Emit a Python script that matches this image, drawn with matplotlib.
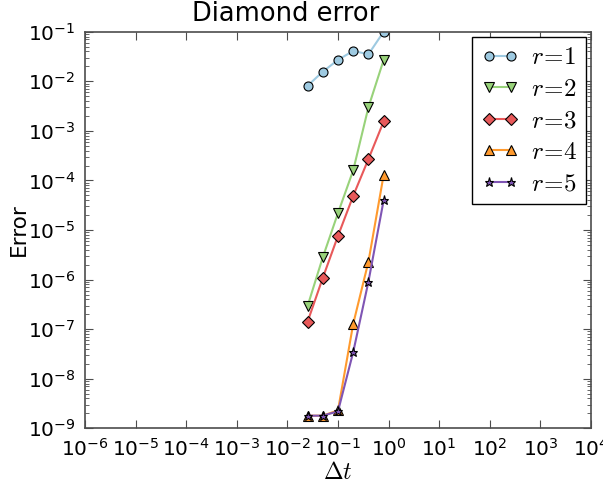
import matplotlib
matplotlib.use("Agg")
import matplotlib.pyplot as plt

dt = [0.025, 0.05, 0.1, 0.2, 0.4, 0.8]
err_r1 = [8.1e-3, 1.56e-2, 2.7e-2, 4.1e-2, 3.5e-2, 1.0e-1]
err_r2 = [2.9e-7, 2.8e-6, 2.2e-5, 1.6e-4, 3.0e-3, 2.7e-2]
err_r3 = [1.4e-7, 1.08e-6, 7.6e-6, 4.9e-5, 2.7e-4, 1.55e-3]
err_r4 = [1.8e-9, 1.8e-9, 2.3e-9, 1.28e-7, 2.3e-6, 1.3e-4]
err_r5 = [1.8e-9, 1.8e-9, 2.2e-9, 3.45e-8, 9.1e-7, 4.0e-5]
labels = [r"$r\!=\!1$", r"$r\!=\!2$", r"$r\!=\!3$", r"$r\!=\!4$", r"$r\!=\!5$"]

colors = ["#9ecae1", "#98d27a", "#e8595a", "#ff9a2e", "#7f55b4"]
markers = ["o", "v", "D", "^", "*"]

plt.rcParams["mathtext.fontset"] = "cm"
plt.rcParams["axes.unicode_minus"] = False

fig = plt.figure(figsize=(6.03, 4.84), dpi=100)
ax = fig.add_axes([0.141, 0.115, 0.839, 0.8195])

series = [err_r1, err_r2, err_r3, err_r4, err_r5]
for vals, c, m, lab in zip(series, colors, markers, labels):
    ax.plot(dt, vals, color=c, marker=m, markersize=6.5, markerfacecolor=c,
            markeredgecolor="black", markeredgewidth=0.8, linewidth=1.5,
            label=lab)

ax.set_xscale("log")
ax.set_yscale("log")
ax.set_xlim(1e-6, 1e4)
ax.set_ylim(1e-9, 1e-1)
ax.set_xticks([10.0 ** k for k in range(-6, 5)])
ax.set_yticks([10.0 ** k for k in range(-9, 0)])

for s in ax.spines.values():
    s.set_color("0.3")
    s.set_linewidth(1.2)
ax.tick_params(which="both", direction="in", top=True, right=True,
               color="0.3", labelsize=14.5)
ax.tick_params(which="major", length=6, pad=7)
ax.tick_params(which="minor", length=3)

# title sits left of the axes centre in the reference
fig.text(0.474, 0.972, "Diamond error", fontsize=18.5, ha="center",
         va="center")
ax.set_xlabel(r"$\Delta t$", fontsize=17, labelpad=0)
ax.set_ylabel("Error", fontsize=15.5, labelpad=-1)

leg = ax.legend(loc="upper right", fontsize=18, fancybox=False,
                framealpha=1, edgecolor="black", borderaxespad=0.2,
                numpoints=2, handlelength=1.5, handletextpad=0.5,
                labelspacing=0.3, borderpad=0.35)
leg.get_frame().set_linewidth(1.0)

fig.savefig("out.png", dpi=100)
